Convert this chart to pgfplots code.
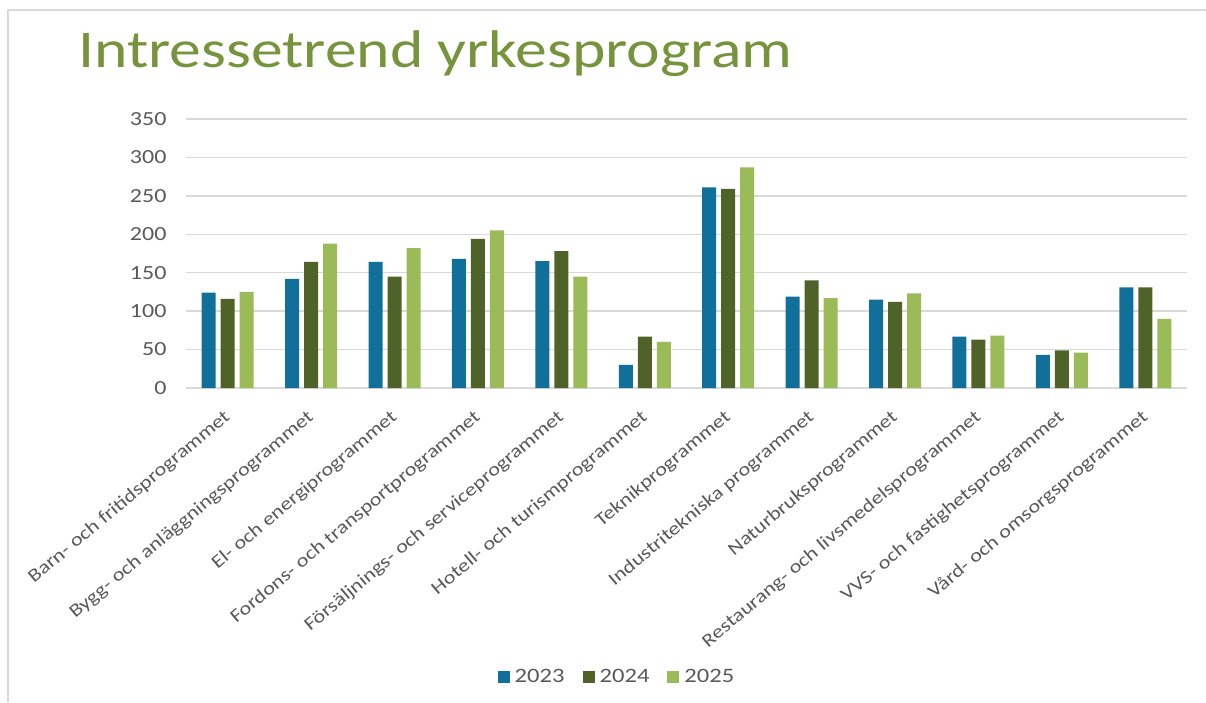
\documentclass[border=0pt]{standalone}
\usepackage{fontspec}
\setmainfont{Carlito}[FakeStretch=1.2]
\usepackage{pgfplots}
\usepackage{pgfplotstable}
\pgfplotsset{compat=1.18}
\definecolor{cA}{RGB}{17,112,154}
\definecolor{cB}{RGB}{79,98,40}
\definecolor{cC}{RGB}{155,187,89}
\definecolor{titlegreen}{RGB}{118,148,60}
\definecolor{gridgray}{RGB}{217,217,217}
\definecolor{labelgray}{RGB}{89,89,89}
\pgfplotsset{/pgfplots/ybar legend/.style={/pgfplots/legend image code/.code={\fill[##1] (0pt,-6pt) rectangle (12pt,6pt); \path (15pt,0pt);}}}
\pgfplotstableread{
x y23 y24 y25
0 124 116 125
1 142 164 188
2 164 145 182
3 168 194 205
4 165 178 145
5 30 67 60
6 261 259 287
7 119 140 117
8 115 112 123
9 67 63 68
10 43 49 46
11 131 131 90
}\datatable
\begin{document}
\begin{tikzpicture}
\path[use as bounding box] (0,0) rectangle (1206pt,702pt);
\draw[color=gridgray, line width=1.5pt] (1206pt,692pt) -- (8pt,692pt) -- (8pt,0pt);
\node[anchor=base west, text=titlegreen, font=\fontsize{53}{62}\selectfont, inner sep=0pt] at (78pt,634pt) {Intressetrend yrkesprogram};
\begin{axis}[
  at={(186pt,314pt)}, anchor=south west,
  scale only axis, width=1001pt, height=269pt,
  ybar=5pt, bar width=14pt,
  xmin=-0.5, xmax=11.5, ymin=0, ymax=350,
  ytick={0,50,...,350},
  xtick={0,...,11},
  xticklabels={Barn- och fritidsprogrammet, Bygg- och anläggningsprogrammet, El- och energiprogrammet, Fordons- och transportprogrammet, Försäljnings- och serviceprogrammet, Hotell- och turismprogrammet, Teknikprogrammet, Industritekniska programmet, Naturbruksprogrammet, Restaurang- och livsmedelsprogrammet, VVS- och fastighetsprogrammet, Vård- och omsorgsprogrammet},
  ymajorgrids, major grid style={color=gridgray, line width=1.5pt},
  axis line style={draw=none},
  major tick style={draw=none},
  /pgf/number format/assume math mode=true,
  yticklabel style={font=\fontsize{20}{23}\selectfont, text=labelgray, anchor=east, xshift=-16pt},
  xticklabel style={font=\fontsize{18.5}{21}\selectfont, text=labelgray, inner sep=0pt, xshift=-5pt, yshift=-16pt, rotate=40, anchor=north east},
  legend style={at={(0.4306,-1.074)}, anchor=center, draw=none, fill=none,
    legend columns=3, font=\fontsize{20.5}{23}\selectfont, text=labelgray,
    /tikz/every even column/.append style={column sep=16pt}},
  legend cell align=left,
]
\addplot[fill=cA, draw=none] table[x=x, y=y23] {\datatable};
\addplot[fill=cB, draw=none] table[x=x, y=y24] {\datatable};
\addplot[fill=cC, draw=none] table[x=x, y=y25] {\datatable};
\legend{2023,2024,2025}
\end{axis}
\end{tikzpicture}
\end{document}
